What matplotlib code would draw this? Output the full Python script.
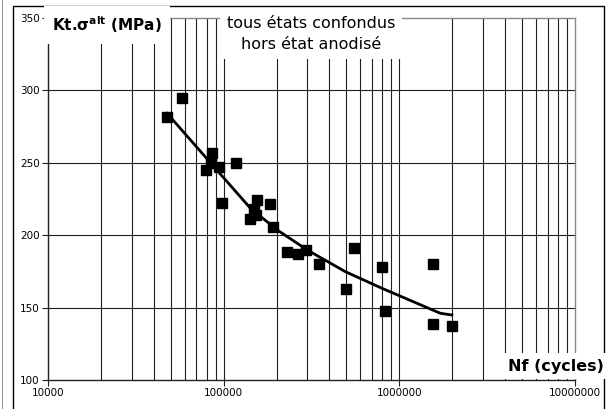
import matplotlib
matplotlib.use("Agg")
import matplotlib.pyplot as plt
from matplotlib.lines import Line2D
from matplotlib.patches import Rectangle
from matplotlib.ticker import FixedLocator, NullFormatter

plt.rcParams["font.family"] = ["DejaVu Sans"]

# measured points (Nf, Kt.sigma_alt)
cycles = [47400, 57700, 86300, 79800, 84400, 94000, 117000, 98300, 154000, 148000,
          142000, 152000, 183000, 192000, 230000, 264000, 296000, 348000, 550000,
          500000, 798000, 832000, 1545000, 1553000, 1990000]
stress = [281.6, 294.5, 256.6, 245.0, 249.8, 246.9, 250.1, 222.4, 224.3, 218.1,
          211.2, 214.0, 221.3, 205.9, 188.4, 187.0, 189.8, 180.1, 190.9,
          162.8, 178.2, 147.9, 180.1, 138.7, 137.3]

# fitted curve
trend_cycles = [47600, 142000, 202000, 299000, 493000, 798000, 1710000, 1990000]
trend_stress = [284.2, 218.6, 203.6, 189.8, 174.8, 163.3, 146.1, 144.9]

y_ticks = [100, 150, 200, 250, 300, 350]
x_ticks = [1e4, 1e5, 1e6, 1e7]
x_labels = ["10000", "100000", "1000000", "10000000"]

W, H = 609, 409
fig = plt.figure(figsize=(W / 100, H / 100), dpi=100)
fig.patch.set_facecolor("white")

# outer frame
fig.patches.append(Rectangle((13 / W, -0.02), (604 - 13) / W, 1.02 - 6 / H,
                             transform=fig.transFigure, fill=False,
                             edgecolor="black", linewidth=1.0))
fig.lines.append(Line2D([1.5 / W, 1.5 / W], [0, 1], transform=fig.transFigure,
                        color="#999999", linewidth=0.8))

ax = fig.add_axes([48 / W, 1 - 380 / H, (575 - 48) / W, (380 - 18) / H])
ax.set_xscale("log")
ax.set_xlim(1e4, 1e7)
ax.set_ylim(100, 350)

# grid
minor = [m * 10 ** e for e in (4, 5, 6) for m in range(2, 10)]
for xv in minor + [1e5, 1e6]:
    ax.axvline(xv, color="#202020", linewidth=0.8, zorder=1)
for yv in [150, 200, 250, 300]:
    ax.axhline(yv, color="#202020", linewidth=0.8, zorder=1)

ax.plot(trend_cycles, trend_stress, color="black", linewidth=2, zorder=3)
ax.plot(cycles, stress, linestyle="none", marker="s", markersize=7,
        color="black", zorder=4)

ax.xaxis.set_major_locator(FixedLocator(x_ticks))
ax.xaxis.set_minor_locator(FixedLocator([]))
ax.xaxis.set_minor_formatter(NullFormatter())
ax.set_xticks(x_ticks, x_labels)
ax.set_yticks(y_ticks)
ax.tick_params(axis="both", direction="out", length=4, width=0.8,
               labelsize=7.5, pad=2, color="#202020")

for side in ("left", "bottom"):
    ax.spines[side].set_color("#202020")
    ax.spines[side].set_linewidth(1.0)
for side in ("top", "right"):
    ax.spines[side].set_color("#888888")
    ax.spines[side].set_linewidth(1.0)

# labels with white boxes covering the grid
fig.text(52 / W, 1 - 25 / H, r"Kt.σ$^{\mathbf{alt}}$ (MPa)",
         fontsize=11, fontweight="bold", ha="left", va="center",
         bbox=dict(facecolor="white", edgecolor="none", pad=6))
fig.text(311 / W, 1 - 34 / H, "tous états confondus\nhors état anodisé",
         fontsize=11.5, ha="center", va="center", linespacing=1.5,
         bbox=dict(facecolor="white", edgecolor="none", pad=5))
fig.text(604 / W, 1 - 366 / H, "Nf (cycles)", fontsize=11.5,
         fontweight="bold", ha="right", va="center",
         bbox=dict(facecolor="white", edgecolor="none", pad=4))

fig.savefig("out.png", dpi=100, facecolor="white")
